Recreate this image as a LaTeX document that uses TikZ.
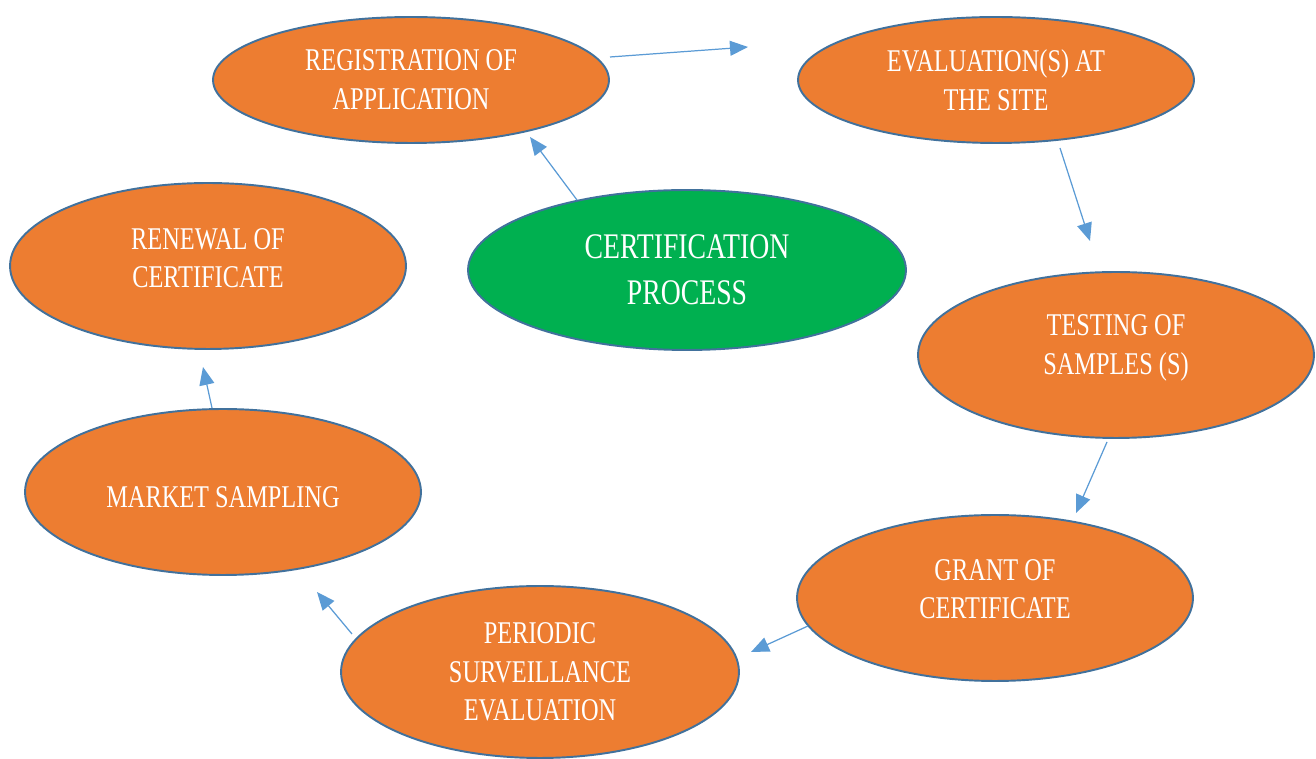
\documentclass[tikz,border=0pt]{standalone}
\usepackage{fontspec}
\setmainfont{Liberation Serif}[FakeStretch=0.77]
\usepackage{xcolor}
\usepackage{tikz}
\usetikzlibrary{shapes.geometric,arrows.meta}

\definecolor{stepfill}{HTML}{ED7D31}
\definecolor{corefill}{HTML}{00B050}
\definecolor{rimblue}{HTML}{41719C}
\definecolor{flowblue}{HTML}{5B9BD5}

\tikzset{
  stage/.style = {ellipse, draw = rimblue, line width = 1.1pt, fill = stepfill,
    text = white, align = center, inner sep = 0pt,
    minimum width = 7.92cm, minimum height = 3.32cm,
    font = \fontsize{18}{22}\selectfont},
  flow/.style = {color = flowblue, line width = 0.7pt,
    -{Triangle[length = 0.36cm, width = 0.3cm]}}
}

\begin{document}
\begin{tikzpicture}[x = 0.02cm, y = -0.02cm]
        \useasboundingbox (0,0) rectangle (1316,759);

        \node [stage, minimum height = 2.52cm] (reg) at (411,80) {REGISTRATION OF\\APPLICATION};
        \node [stage, minimum height = 2.52cm] (eval) at (996,80) {EVALUATION(S) AT\\THE SITE};
        \node [stage, fill = corefill, minimum width = 8.76cm, minimum height = 3.2cm,
               font = \fontsize{20.5}{26}\selectfont] (cert) at (687,270) {CERTIFICATION\\PROCESS};
        \node [stage, text depth = 0.32cm] (renew) at (208,266) {RENEWAL OF\\CERTIFICATE};
        \node [stage, text depth = 0.41cm] (test) at (1116,355) {TESTING OF\\SAMPLES (S)};
        \node [stage, text height = 0.62cm] (market) at (223,492) {MARKET SAMPLING};
        \node [stage, text depth = 0.36cm] (grant) at (995,598) {GRANT OF\\CERTIFICATE};
        \node [stage, minimum width = 7.96cm, minimum height = 3.44cm] (periodic) at (540,672) {PERIODIC\\SURVEILLANCE\\EVALUATION};

        \path
            ([shift={(199,-23)}]reg.center) edge [flow] ([shift={(-248,-33)}]eval.center)
            ([shift={(64,68)}]eval.center) edge [flow] ([shift={(-26,-114)}]test.center)
            ([shift={(-9,87)}]test.center) edge [flow] ([shift={(81,-85)}]grant.center)
            ([shift={(-187,28)}]grant.center) edge [flow] ([shift={(211,-20)}]periodic.center)
            ([shift={(-188,-38)}]periodic.center) edge [flow] ([shift={(94,100)}]market.center)
            ([shift={(-11,-84)}]market.center) edge [flow] ([shift={(-5,101)}]renew.center)
            ([shift={(-110,-70)}]cert.center) edge [flow] ([shift={(119,57)}]reg.center);
    \end{tikzpicture}
\end{document}
